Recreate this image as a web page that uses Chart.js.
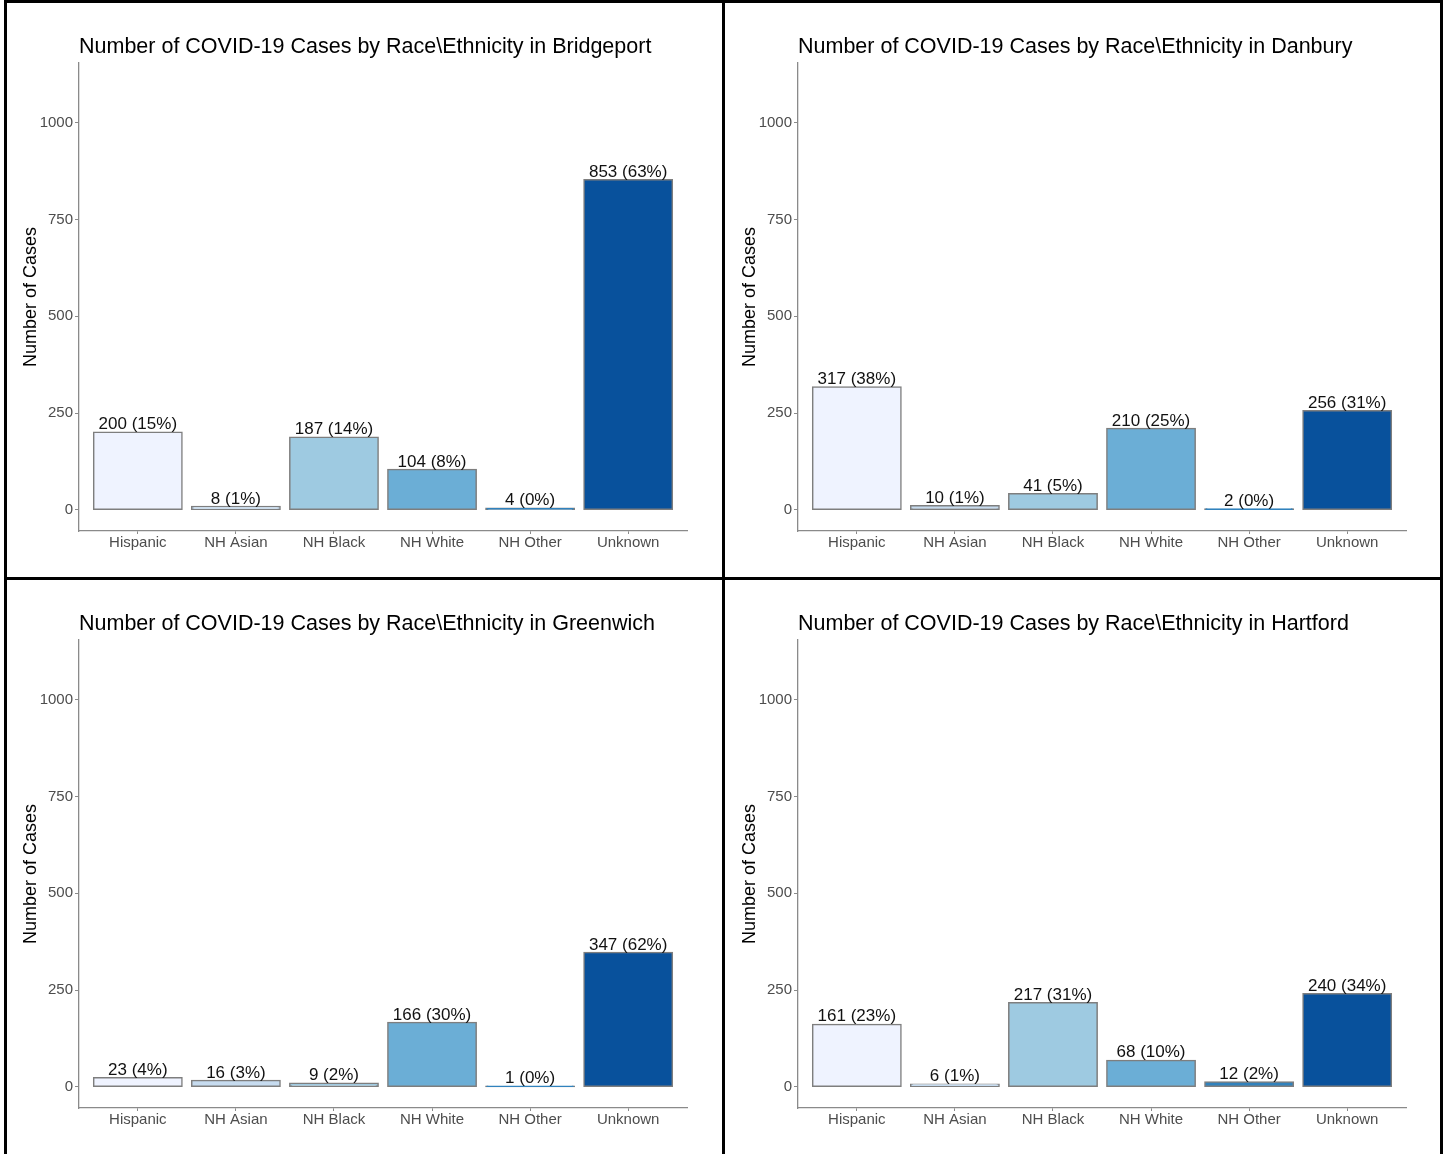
<!DOCTYPE html>
<html>
<head>
<meta charset="utf-8">
<script src="https://cdn.jsdelivr.net/npm/chart.js@4.4.0/dist/chart.umd.min.js"></script>
<style>
  body { margin: 0; background: #fff; }
  #page { position: relative; width: 1450px; height: 1154px; overflow: hidden; background: #fff; }
  #page canvas { position: absolute; }
  .rule { position: absolute; background: #000; z-index: 2; }
</style>
</head>
<body>
<div id="page">
  <canvas id="c0" width="714" height="571" style="left:7px;top:5px"></canvas>
  <canvas id="c1" width="714" height="571" style="left:726px;top:5px"></canvas>
  <canvas id="c2" width="714" height="571" style="left:7px;top:582px"></canvas>
  <canvas id="c3" width="714" height="571" style="left:726px;top:582px"></canvas>
  <!-- frame lines -->
  <div class="rule" style="left:4px;top:0;width:3px;height:1154px"></div>
  <div class="rule" style="left:4px;top:0;width:1439px;height:3px"></div>
  <div class="rule" style="left:722px;top:0;width:3px;height:1154px"></div>
  <div class="rule" style="left:1440px;top:0;width:3px;height:1154px"></div>
  <div class="rule" style="left:4px;top:577px;width:1439px;height:3px"></div>
</div>
<script>
// categories and values
const categories = ['Hispanic', 'NH Asian', 'NH Black', 'NH White', 'NH Other', 'Unknown'];
const towns = ['Bridgeport', 'Danbury', 'Greenwich', 'Hartford'];

const bridgeportCases = [200, 8, 187, 104, 4, 853];
const bridgeportPct   = [15, 1, 14, 8, 0, 63];
const danburyCases    = [317, 10, 41, 210, 2, 256];
const danburyPct      = [38, 1, 5, 25, 0, 31];
const greenwichCases  = [23, 16, 9, 166, 1, 347];
const greenwichPct    = [4, 3, 2, 30, 0, 62];
const hartfordCases   = [161, 6, 217, 68, 12, 240];
const hartfordPct     = [23, 1, 31, 10, 2, 34];

const yTicks = [0, 250, 500, 750, 1000];
const yMin = -55;
const yMax = 1155;

const barColors = ['#eff3ff', '#c6dbef', '#9ecae1', '#6baed6', '#3182bd', '#08519c'];

const FONT = '"Liberation Sans", Arial, sans-serif';
const AXIS_GREY = '#8a8a8a';

// title, y title and the "n (p%)" labels
function panelText(title, labels) {
  return {
    id: 'panelText',
    afterDatasetsDraw(chart) {
      const ctx = chart.ctx;
      const area = chart.chartArea;
      ctx.save();

      ctx.font = '17px ' + FONT;
      ctx.fillStyle = '#111';
      ctx.textAlign = 'center';
      ctx.textBaseline = 'alphabetic';
      chart.getDatasetMeta(0).data.forEach((bar, i) => {
        ctx.fillText(labels[i], bar.x, bar.y - 3);
      });

      ctx.font = '21.5px ' + FONT;
      ctx.fillStyle = '#000';
      ctx.textAlign = 'left';
      ctx.textBaseline = 'middle';
      ctx.fillText(title, area.left, 42);

      ctx.translate(24, (area.top + area.bottom) / 2);
      ctx.rotate(-Math.PI / 2);
      ctx.font = '18px ' + FONT;
      ctx.textAlign = 'center';
      ctx.fillText('Number of Cases', 0, 0);
      ctx.restore();
    }
  };
}

function makeChart(id, town, cases, pct) {
  const ctx = document.getElementById(id).getContext('2d');
  const labels = cases.map((v, i) => `${v} (${pct[i]}%)`);

  return new Chart(ctx, {
    type: 'bar',
    data: {
      datasets: [{
        data: cases.map((v, i) => ({ x: i + 1, y: v })),
        backgroundColor: barColors,
        borderColor: 'rgba(40, 40, 40, 0.6)',
        borderWidth: 1.5,
        borderSkipped: false,
        inflateAmount: 0.8,
        categoryPercentage: 0.9,
        barPercentage: 1.0,
      }]
    },
    options: {
      responsive: false,
      animation: false,
      layout: { padding: { top: 58, right: 34, bottom: 0, left: 0 } },
      plugins: {
        legend: { display: false },
        tooltip: { enabled: false },
        title: { display: false }
      },
      scales: {
        x: {
          type: 'linear',
          min: 0.4,
          max: 6.6,
          offset: false,
          afterBuildTicks: (scale) => {
            scale.ticks = categories.map((c, i) => ({ value: i + 1 }));
          },
          afterFit: (scale) => { scale.height = 45; },
          ticks: {
            autoSkip: false,
            maxRotation: 0,
            padding: 0,
            color: '#4d4d4d',
            font: { family: FONT, size: 15 },
            callback: (v) => categories[v - 1]
          },
          grid: {
            display: true,
            offset: false,
            drawOnChartArea: false,
            drawTicks: true,
            tickLength: 3,
            color: AXIS_GREY
          },
          border: { display: true, color: AXIS_GREY, width: 1.3 }
        },
        y: {
          min: yMin,
          max: yMax,
          afterBuildTicks: (scale) => {
            scale.ticks = yTicks.map(v => ({ value: v }));
          },
          afterFit: (scale) => { scale.width = 72; },
          ticks: {
            padding: 2,
            color: '#4d4d4d',
            font: { family: FONT, size: 15 },
            callback: (v) => String(v)
          },
          grid: {
            display: true,
            drawOnChartArea: false,
            drawTicks: true,
            tickLength: 4,
            color: AXIS_GREY
          },
          border: { display: true, color: AXIS_GREY, width: 1.3 }
        }
      }
    },
    plugins: [panelText(`Number of COVID-19 Cases by Race\\Ethnicity in ${town}`, labels)]
  });
}

makeChart('c0', towns[0], bridgeportCases, bridgeportPct);
makeChart('c1', towns[1], danburyCases, danburyPct);
makeChart('c2', towns[2], greenwichCases, greenwichPct);
makeChart('c3', towns[3], hartfordCases, hartfordPct);
</script>
</body>
</html>
